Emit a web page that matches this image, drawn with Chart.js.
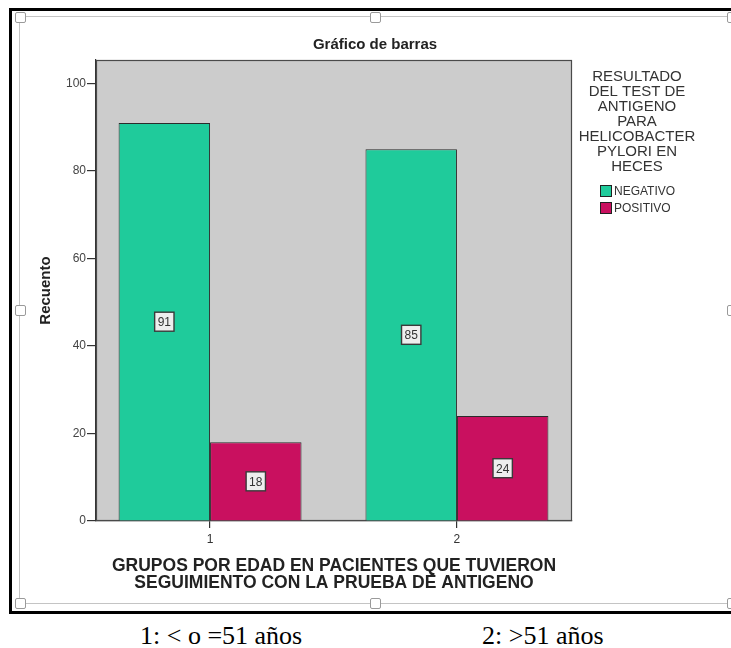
<!DOCTYPE html>
<html>
<head>
<meta charset="utf-8">
<title>Gráfico de barras</title>
<script src="https://cdn.jsdelivr.net/npm/chart.js@4.4.1/dist/chart.umd.min.js"></script>
<style>
  html, body { margin: 0; padding: 0; background: #ffffff; }
  body { width: 731px; height: 648px; position: relative; overflow: hidden; }
  #frame { position: absolute; left: 9px; top: 8px; width: 740px; height: 600px; border: 3px solid #000; }
  #select { position: absolute; left: 19px; top: 16px; width: 740px; height: 586px; border: 1.5px solid #c4c4c4; }
  .handle { position: absolute; width: 9px; height: 9px; background: #fff; border: 1px solid #9a9a9a; border-radius: 2px; z-index: 3; }
  #wrap { position: absolute; left: 0; top: 0; width: 731px; height: 648px; z-index: 2; }
  .caption { position: absolute; top: 623px; font-family: "Liberation Serif", "Times New Roman", serif; font-size: 26px; line-height: 26px; color: #000; white-space: pre; }
</style>
</head>
<body>
<div id="frame"></div>
<div id="select"></div>
<div id="wrap"><canvas id="chart" width="731" height="648"></canvas></div>
<div class="caption" id="cap1"></div>
<div class="caption" id="cap2"></div>
<script>
// Age groups (category codes on the x axis) and counts per test result
const groupCodes = [1, 2];
const groupLabels = ['1', '2'];
const negativo = [91, 85];
const positivo = [18, 24];
const seriesNames = ['NEGATIVO', 'POSITIVO'];
const yTickValues = [0, 20, 40, 60, 80, 100];
const legendTitleLines = ['RESULTADO', 'DEL TEST DE', 'ANTIGENO', 'PARA', 'HELICOBACTER', 'PYLORI EN', 'HECES'];
const xTitleLines = ['GRUPOS POR EDAD EN PACIENTES QUE TUVIERON', 'SEGUIMIENTO CON LA PRUEBA DE ANTIGENO'];
const captions = ['1: < o =51 años', '2: >51 años'];

document.getElementById('cap1').textContent = captions[0];
document.getElementById('cap2').textContent = captions[1];
document.getElementById('cap1').style.left = '140px';
document.getElementById('cap2').style.left = '482px';

// selection handles around the chart object
[[20, 17], [375, 17], [732, 17], [20, 310], [732, 310], [20, 603], [375, 603], [732, 603]].forEach(([cx, cy]) => {
  const h = document.createElement('div');
  h.className = 'handle';
  h.style.left = (cx - 5) + 'px';
  h.style.top = (cy - 5) + 'px';
  document.body.appendChild(h);
});

const SANS = '"Liberation Sans", Arial, Helvetica, sans-serif';
Chart.defaults.font.family = SANS;
Chart.defaults.color = '#333333';

const colors = ['#1fcb9b', '#c9105f'];

// grey plot background with a dark frame
const plotBackground = {
  id: 'plotBackground',
  beforeDatasetsDraw(chart) {
    const {ctx, chartArea: a} = chart;
    ctx.save();
    ctx.fillStyle = '#cccccc';
    ctx.fillRect(a.left, a.top, a.right - a.left, a.bottom - a.top);
    ctx.strokeStyle = '#4a4a4a';
    ctx.lineWidth = 1.2;
    ctx.strokeRect(a.left + 0.5, a.top + 0.5, a.right - a.left - 1, a.bottom - a.top - 1);
    ctx.restore();
  }
};

// value boxes in the middle of each bar
const valueBoxes = {
  id: 'valueBoxes',
  afterDatasetsDraw(chart) {
    const {ctx} = chart;
    ctx.save();
    ctx.font = '12px ' + SANS;
    ctx.textAlign = 'center';
    ctx.textBaseline = 'middle';
    chart.data.datasets.forEach((ds, di) => {
      chart.getDatasetMeta(di).data.forEach((bar, i) => {
        const v = ds.data[i].y;
        const txt = String(v);
        const cx = bar.x;
        const cy = (bar.y + bar.base) / 2;
        const w = ctx.measureText(txt).width + 6;
        const h = 19;
        ctx.fillStyle = '#eeeeee';
        ctx.fillRect(cx - w / 2, cy - h / 2, w, h);
        ctx.strokeStyle = '#3a3a3a';
        ctx.lineWidth = 1.4;
        ctx.strokeRect(cx - w / 2, cy - h / 2, w, h);
        ctx.fillStyle = '#333333';
        ctx.fillText(txt, cx, cy + 1);
      });
    });
    ctx.restore();
  }
};

// legend on the right: multi-line title plus one swatch per series
const sideLegend = {
  id: 'sideLegend',
  afterDraw(chart) {
    const {ctx} = chart;
    ctx.save();
    ctx.fillStyle = '#333333';
    ctx.font = '15px ' + SANS;
    ctx.textAlign = 'center';
    ctx.textBaseline = 'middle';
    legendTitleLines.forEach((line, i) => ctx.fillText(line, 637, 77 + i * 15));
    ctx.font = '12px ' + SANS;
    ctx.textAlign = 'left';
    chart.data.datasets.forEach((ds, i) => {
      const y = 185 + i * 17;
      ctx.fillStyle = ds.backgroundColor;
      ctx.fillRect(600, y, 12, 12);
      ctx.strokeStyle = '#222222';
      ctx.lineWidth = 1;
      ctx.strokeRect(600.5, y + 0.5, 11, 11);
      ctx.fillStyle = '#333333';
      ctx.fillText(ds.label, 614, y + 6.5);
    });
    ctx.restore();
  }
};

const datasets = [negativo, positivo].map((vals, s) => ({
  label: seriesNames[s],
  data: groupCodes.map((x, i) => ({x, y: vals[i]})),
  backgroundColor: colors[s],
  borderColor: '#2b2b2b',
  borderWidth: 1,
  categoryPercentage: 0.741,
  barPercentage: 1.0
}));

new Chart(document.getElementById('chart'), {
  type: 'bar',
  data: {datasets},
  plugins: [plotBackground, valueBoxes, sideLegend],
  options: {
    responsive: false,
    animation: false,
    devicePixelRatio: 1,
    layout: {padding: {left: 19, right: 0, top: 0, bottom: 0}},
    plugins: {
      legend: {display: false},
      tooltip: {enabled: false},
      title: {
        display: true,
        text: 'Gráfico de barras',
        color: '#222222',
        font: {size: 15, weight: 'bold'},
        padding: {top: 36, bottom: 6}
      }
    },
    scales: {
      x: {
        type: 'linear',
        position: 'bottom',
        min: 0.538,
        max: 2.466,
        offset: false,
        afterBuildTicks: s => { s.ticks = groupCodes.map(v => ({value: v})); },
        afterFit: s => { s.height = 127; },
        ticks: {
          font: {size: 12},
          color: '#333333',
          padding: 4,
          callback: (v) => groupLabels[groupCodes.indexOf(v)]
        },
        grid: {offset: false, drawOnChartArea: false, drawTicks: true, tickLength: 7, color: '#333333', lineWidth: 1.2},
        border: {display: true, color: '#333333', width: 1.2},
        title: {
          display: true,
          text: xTitleLines,
          color: '#222222',
          font: {size: 17.5, weight: 'bold', lineHeight: 1.0},
          padding: {top: 0, bottom: 56}
        }
      },
      y: {
        type: 'linear',
        position: 'left',
        min: 0,
        max: 105.4,
        afterBuildTicks: s => { s.ticks = yTickValues.map(v => ({value: v})); },
        afterFit: s => { s.width = 77; },
        ticks: {font: {size: 12}, color: '#444444', padding: 1},
        grid: {drawOnChartArea: false, drawTicks: true, tickLength: 9, color: '#333333', lineWidth: 1.2},
        border: {display: true, color: '#333333', width: 1.2},
        title: {
          display: true,
          text: 'Recuento',
          color: '#222222',
          font: {size: 15, weight: 'bold'},
          padding: {top: 18, bottom: 0}
        }
      },
      yRight: {
        type: 'linear',
        position: 'right',
        display: true,
        afterFit: s => { s.width = 159; },
        ticks: {display: false},
        grid: {display: false},
        border: {display: false}
      }
    }
  }
});
</script>
</body>
</html>
